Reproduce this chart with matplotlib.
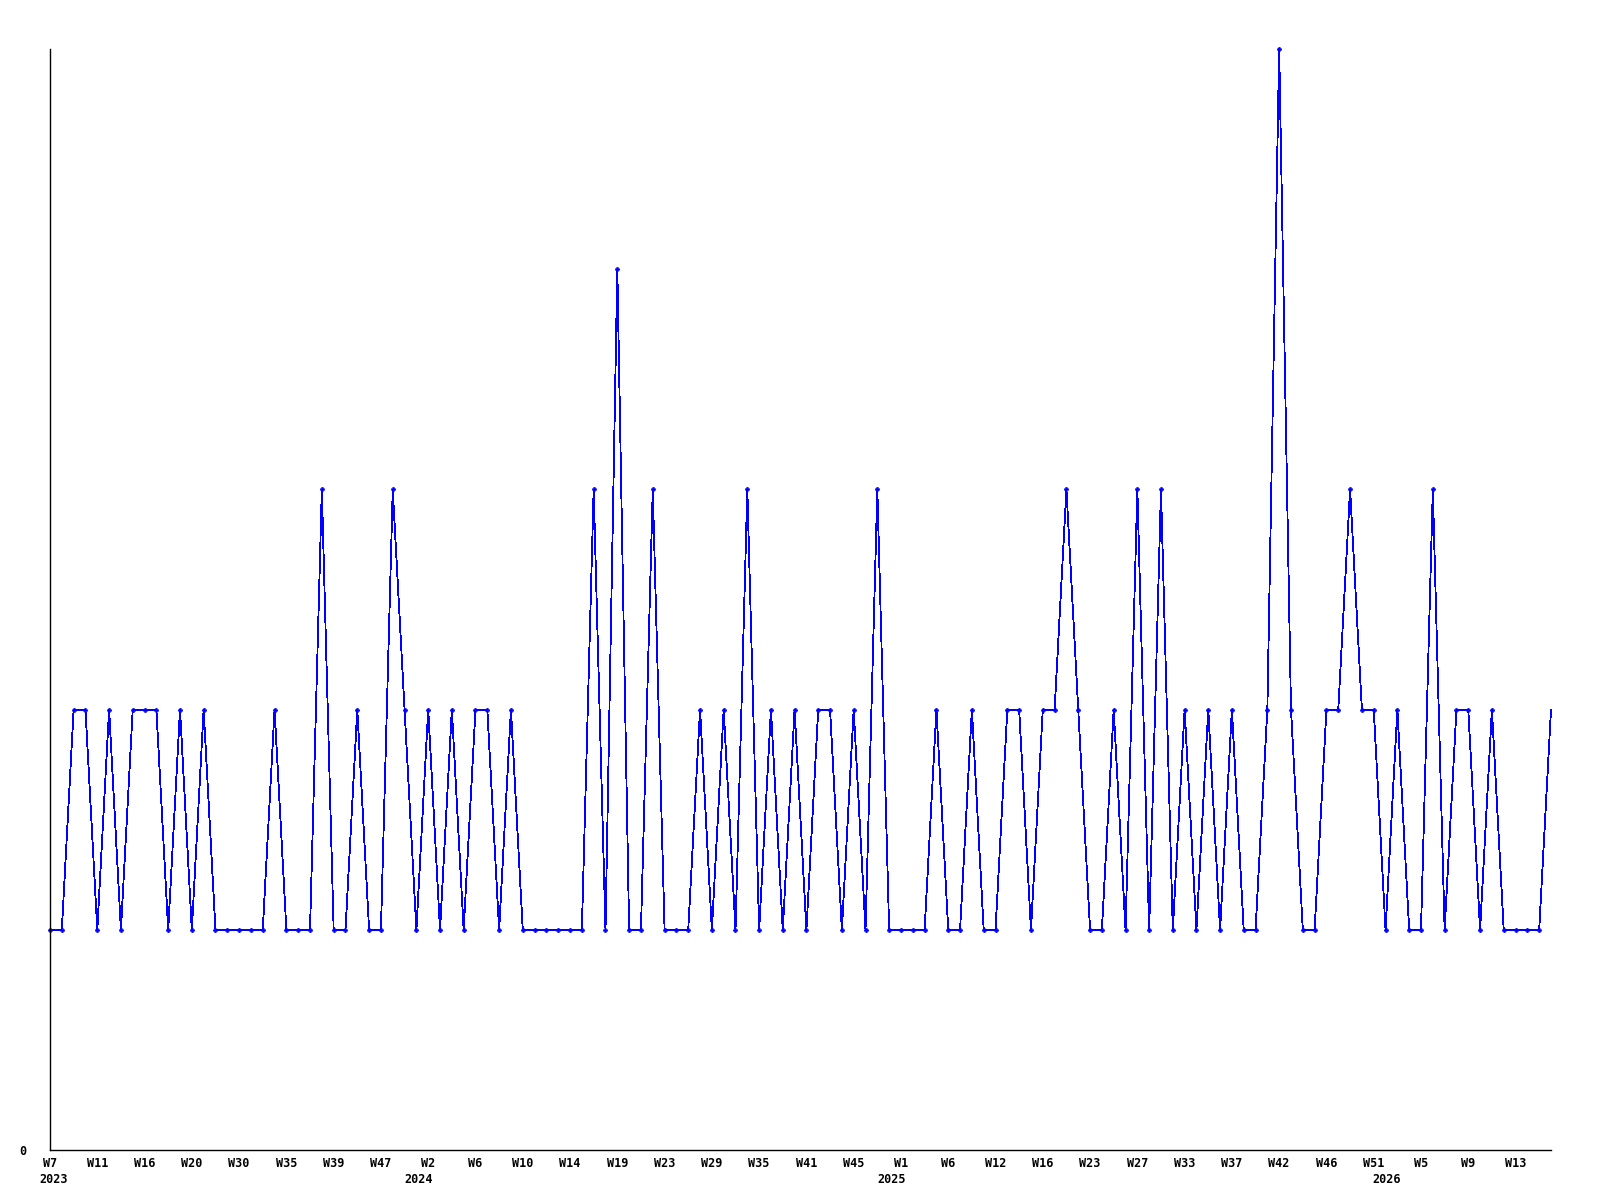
import matplotlib
matplotlib.use("Agg")
import matplotlib.pyplot as plt
import matplotlib.transforms as mtransforms

# valeurs hebdomadaires (une valeur par point)
values = [1, 1, 2, 2, 1, 2, 1, 2, 2, 2, 1, 2, 1, 2, 1, 1, 1, 1, 1, 2,
          1, 1, 1, 3, 1, 1, 2, 1, 1, 3, 2, 1, 2, 1, 2, 1, 2, 2, 1, 2,
          1, 1, 1, 1, 1, 1, 3, 1, 4, 1, 1, 3, 1, 1, 1, 2, 1, 2, 1, 3,
          1, 2, 1, 2, 1, 2, 2, 1, 2, 1, 3, 1, 1, 1, 1, 2, 1, 1, 2, 1,
          1, 2, 2, 1, 2, 2, 3, 2, 1, 1, 2, 1, 3, 1, 3, 1, 2, 1, 2, 1,
          2, 1, 1, 2, 5, 2, 1, 1, 2, 2, 3, 2, 2, 1, 2, 1, 1, 3, 1, 2,
          2, 1, 2, 1, 1, 1, 1, 2]

# étiquettes de l'axe x (une tous les 4 points)
week_labels = ["W7", "W11", "W16", "W20", "W30", "W35", "W39", "W47",
               "W2", "W6", "W10", "W14", "W19", "W23", "W29", "W35",
               "W41", "W45", "W1", "W6", "W12", "W16", "W23", "W27",
               "W33", "W37", "W42", "W46", "W51", "W5", "W9", "W13"]
years = ["2023", "2024", "2025", "2026"]
year_pos = [0.3, 31.2, 71.2, 113.1]

x = list(range(len(values)))
font = dict(family="DejaVu Sans Mono", fontweight="bold", fontsize=8.5)

fig = plt.figure(figsize=(16, 12), dpi=100)
ax = fig.add_axes([50 / 1600, 1 - 1150 / 1200, 1501 / 1600, 1101 / 1200])

ax.plot(x, values, color="#0000ff", linewidth=0.6, antialiased=False,
        marker="P", markersize=3, markeredgewidth=0.5,
        markevery=list(range(len(values) - 1)), clip_on=False)

ax.set_xlim(0, len(values) - 1)
ax.set_ylim(0, 5)

for side in ["top", "right"]:
    ax.spines[side].set_visible(False)
for side in ["left", "bottom"]:
    ax.spines[side].set_linewidth(1.0)
    ax.spines[side].set_color("black")

ax.set_xticks(range(0, len(values), 4))
ax.set_xticklabels(week_labels, **font)
ax.set_yticks([0])
ax.set_yticklabels(["0"], **font)
ax.tick_params(axis="both", length=0)
ax.tick_params(axis="x", pad=5)
ax.tick_params(axis="y", pad=17)

trans = mtransforms.blended_transform_factory(ax.transData, ax.transAxes)
for pos, year in zip(year_pos, years):
    ax.text(pos, -0.0205, year, transform=trans, ha="center", va="top", **font)

fig.savefig("out.png", dpi=100)
